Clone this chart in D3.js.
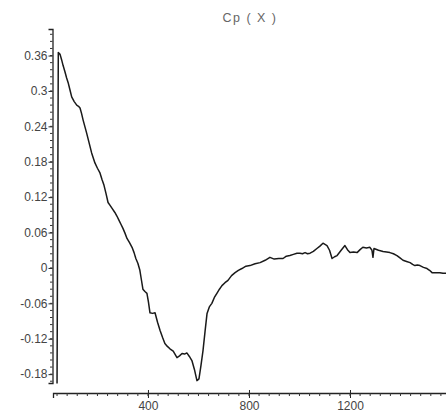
<!DOCTYPE html>
<html>
<head>
<meta charset="utf-8">
<script src="https://cdn.jsdelivr.net/npm/d3@7"></script>
<style>
  html, body { margin: 0; padding: 0; background: #fff; }
  svg { display: block; }
  text { font-family: "Liberation Sans", Arial, sans-serif; }
</style>
</head>
<body>
<svg id="chart" width="446" height="416"></svg>
<script>
// Pressure coefficient Cp along X
const chartTitle = "Cp ( X )";

const xValues = [
  40, 45, 52, 58, 64, 71, 78, 84, 91, 98, 108, 118, 125, 131, 137, 143, 150, 157, 167, 177,
  190, 200, 210, 218, 226, 234, 242, 250, 258, 269, 277, 285, 293, 301, 309, 317, 327, 337,
  345, 352, 360, 368, 374, 380, 388, 396, 402, 408, 418, 428, 438, 448, 458, 467, 477, 487,
  500, 515, 525, 535, 545, 554, 564, 574, 584, 594, 602, 610, 618, 626, 634, 643, 653, 663,
  673, 683, 693, 705, 717, 731, 745, 758, 772, 788, 804, 824, 844, 864, 883, 900, 918, 935,
  948, 962, 976, 990, 1002, 1012, 1022, 1032, 1042, 1055, 1069, 1081, 1093, 1101, 1109, 1119,
  1129, 1139, 1149, 1165, 1180, 1190, 1200, 1214, 1228, 1240, 1251, 1265, 1279, 1287, 1291,
  1295, 1313, 1331, 1345, 1358, 1372, 1386, 1398, 1410, 1424, 1438, 1448, 1457, 1467, 1477,
  1491, 1505, 1515, 1525, 1540, 1556, 1568, 1580, 1600
];

const cpValues = [
  -0.196, 0.365, 0.362, 0.353, 0.343, 0.333, 0.322, 0.314, 0.302, 0.290, 0.282, 0.276, 0.274,
  0.271, 0.262, 0.251, 0.240, 0.229, 0.212, 0.195, 0.178, 0.169, 0.161, 0.150, 0.140, 0.126,
  0.111, 0.106, 0.101, 0.094, 0.088, 0.081, 0.074, 0.067, 0.059, 0.050, 0.043, 0.035, 0.026,
  0.016, 0.008, -0.004, -0.020, -0.036, -0.040, -0.043, -0.058, -0.076, -0.077, -0.076, -0.092,
  -0.106, -0.118, -0.128, -0.133, -0.137, -0.141, -0.152, -0.149, -0.145, -0.146, -0.144,
  -0.150, -0.157, -0.172, -0.191, -0.188, -0.165, -0.140, -0.108, -0.077, -0.066, -0.060,
  -0.050, -0.043, -0.036, -0.030, -0.025, -0.021, -0.013, -0.008, -0.004, -0.001, 0.003,
  0.004, 0.007, 0.009, 0.013, 0.018, 0.015, 0.016, 0.016, 0.020, 0.021, 0.023, 0.025, 0.025,
  0.024, 0.026, 0.024, 0.025, 0.028, 0.033, 0.037, 0.042, 0.040, 0.038, 0.030, 0.016, 0.019,
  0.021, 0.030, 0.038, 0.031, 0.026, 0.027, 0.026, 0.031, 0.035, 0.034, 0.035, 0.030, 0.018,
  0.033, 0.030, 0.028, 0.027, 0.026, 0.024, 0.021, 0.017, 0.013, 0.011, 0.009, 0.006, 0.004,
  0.005, 0.004, 0.001, -0.001, -0.004, -0.008, -0.008, -0.008, -0.009, -0.009, -0.010
];

const xTicks = [400, 800, 1200];
const xTickLabels = ["400", "800", "1200"];
const xMinorStep = 40;

const yTicks = [0.36, 0.3, 0.24, 0.18, 0.12, 0.06, 0, -0.06, -0.12, -0.18];
const yTickLabels = ["0.36", "0.3", "0.24", "0.18", "0.12", "0.06", "0", "-0.06", "-0.12", "-0.18"];
const yMinorStep = 0.012;

const svg = d3.select("#chart");

const x = d3.scaleLinear().domain([24, 1600]).range([53, 451]);
const y = d3.scaleLinear().domain([-0.195, 0.405]).range([383, 29]);
const xAxisY = 393;

// title
svg.append("text")
  .attr("x", 250).attr("y", 22)
  .attr("text-anchor", "middle")
  .attr("font-size", 12.5)
  .attr("letter-spacing", 1.5)
  .attr("fill", "#666")
  .text(chartTitle);

// minor ticks
const yMinor = d3.range(-0.192, 0.405, yMinorStep);
const xMinor = d3.range(40, 1601, xMinorStep);

// y axis
const yAxis = d3.axisLeft(y)
  .tickValues(yTicks)
  .tickFormat((d, i) => yTickLabels[i])
  .tickSize(4)
  .tickPadding(1);
const gy = svg.append("g").attr("transform", "translate(52.5,0)").call(yAxis);
gy.select(".domain").attr("stroke", "#222").attr("stroke-width", 1.3);
gy.selectAll(".tick line").attr("stroke", "#222");
gy.selectAll(".tick text").attr("font-size", 12).attr("fill", "#444")
  .attr("font-family", "'Liberation Sans', Arial, sans-serif");
gy.append("g").selectAll("line").data(yMinor).join("line")
  .attr("x1", -2.5).attr("x2", 0)
  .attr("y1", d => y(d)).attr("y2", d => y(d))
  .attr("stroke", "#333").attr("stroke-width", 1);

// x axis
const xAxis = d3.axisBottom(x)
  .tickValues(xTicks)
  .tickFormat((d, i) => xTickLabels[i])
  .tickSize(5)
  .tickPadding(3);
const gx = svg.append("g").attr("transform", `translate(0,${xAxisY})`).call(xAxis);
gx.select(".domain").attr("stroke", "#222").attr("stroke-width", 1.3);
gx.selectAll(".tick line").attr("stroke", "#222").attr("y1", -3);
gx.selectAll(".tick text").attr("font-size", 12).attr("fill", "#444")
  .attr("font-family", "'Liberation Sans', Arial, sans-serif");
gx.append("g").selectAll("line").data(xMinor).join("line")
  .attr("x1", d => x(d)).attr("x2", d => x(d))
  .attr("y1", 0).attr("y2", 3)
  .attr("stroke", "#333").attr("stroke-width", 1);

// Cp curve
const points = xValues.map((v, i) => [v, cpValues[i]]);
svg.append("path")
  .datum(points)
  .attr("fill", "none")
  .attr("stroke", "#1a1a1a")
  .attr("stroke-width", 1.5)
  .attr("stroke-linejoin", "round")
  .attr("d", d3.line().x(d => x(d[0])).y(d => y(d[1])));
</script>
</body>
</html>
